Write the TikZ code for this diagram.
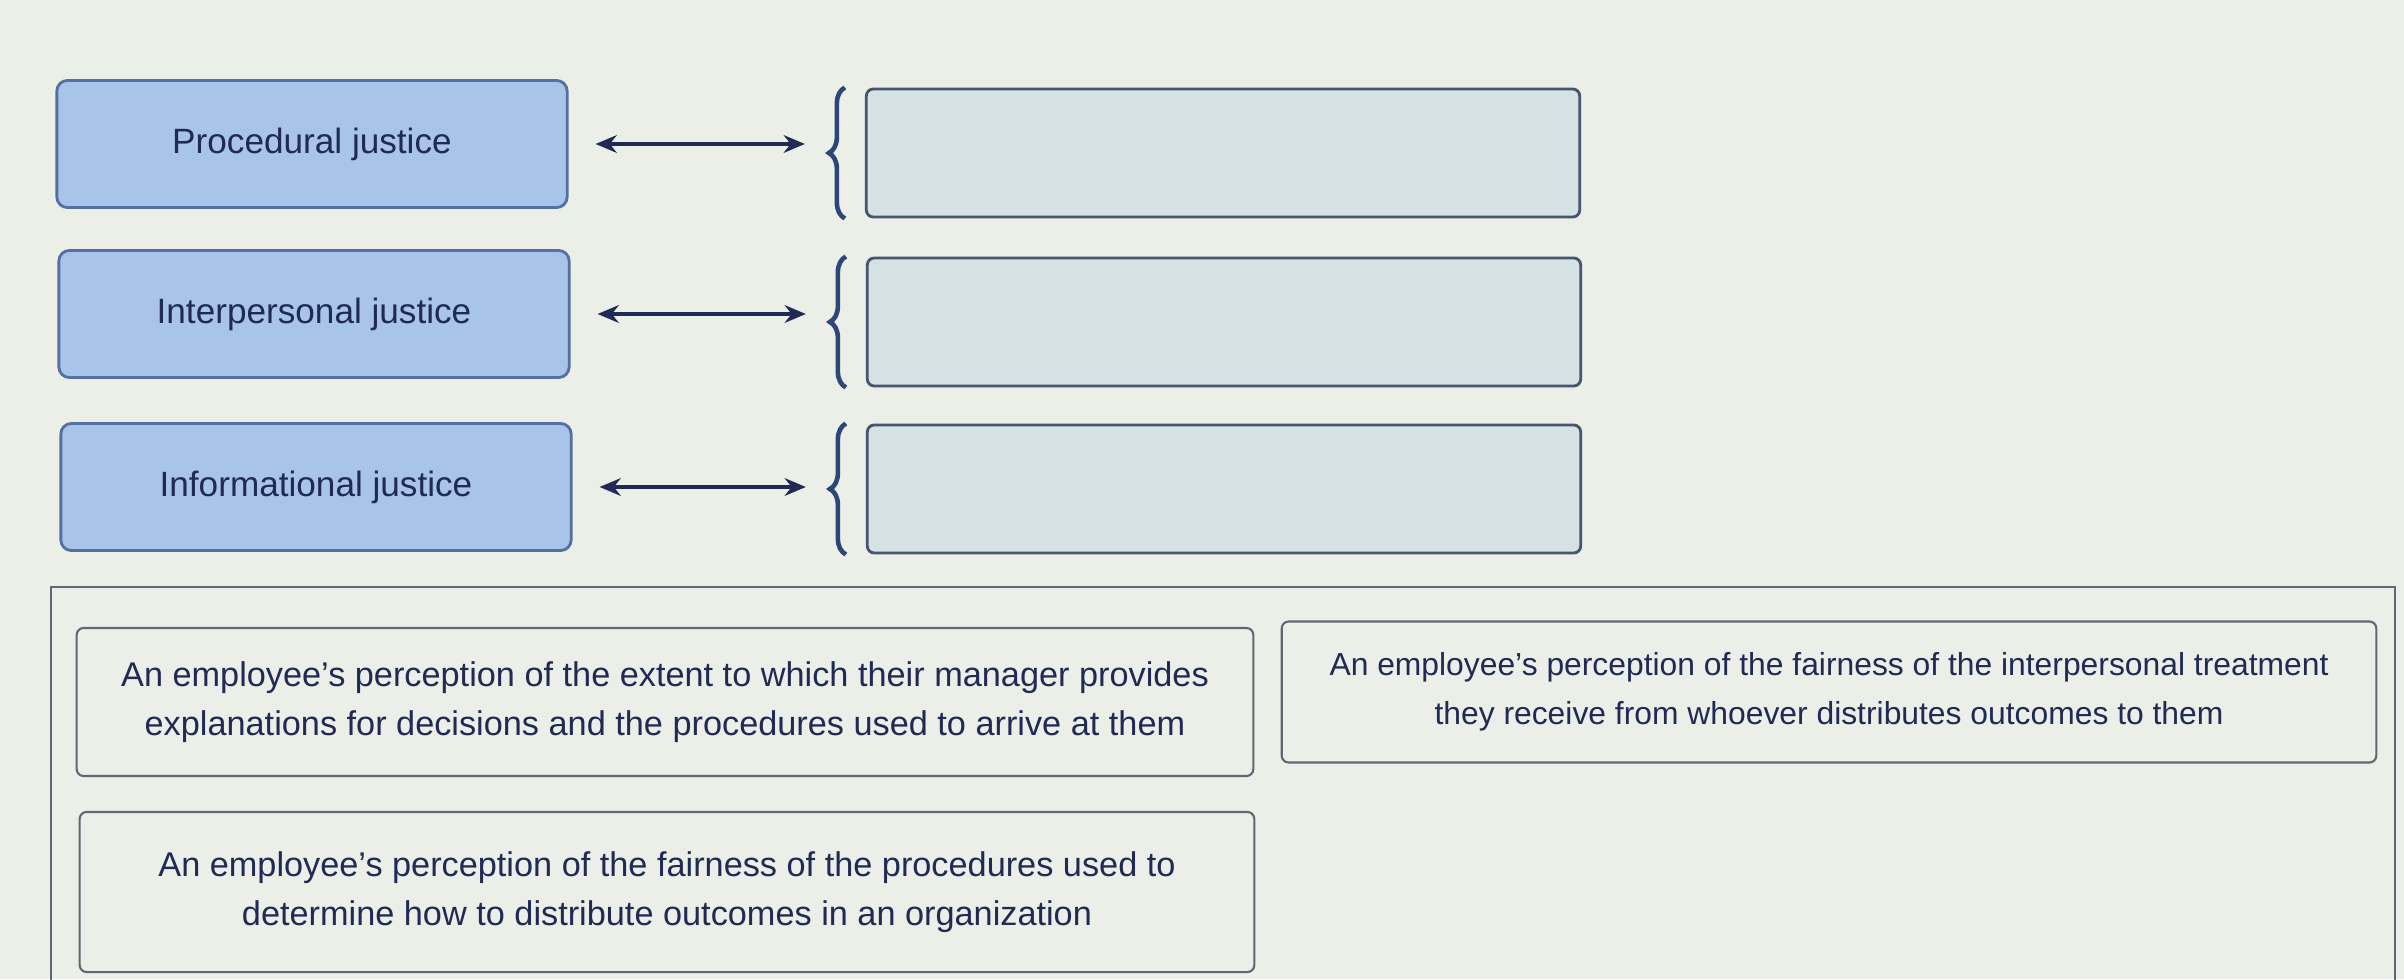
\documentclass[tikz,border=0pt]{standalone}
\usepackage{fontspec}
\setmainfont{Liberation Sans}
\usetikzlibrary{positioning}
\usetikzlibrary{arrows.meta}
\usetikzlibrary{decorations.pathreplacing}

\definecolor{bgpaper}{RGB}{236,238,232}
\definecolor{termfill}{RGB}{168,196,232}
\definecolor{termline}{RGB}{84,112,160}
\definecolor{inkblue}{RGB}{32,42,84}
\definecolor{slotfill}{RGB}{212,226,228}
\definecolor{slotline}{RGB}{70,86,110}
\definecolor{boxline}{RGB}{96,104,116}
\definecolor{bracecol}{RGB}{44,70,120}

\tikzset{
  term/.style={draw=termline, fill=termfill, rounded corners=3pt, minimum width=5.1cm,
    minimum height=1.27cm, text=inkblue, font=\fontsize{10}{12}\selectfont, line width=0.8pt},
  slot/.style={draw=slotline, fill=slotfill, rounded corners=2pt, minimum width=7.13cm,
    minimum height=1.28cm, line width=0.8pt},
  answer/.style={draw=boxline, rounded corners=2pt, align=center, text=inkblue,
    font=\fontsize{9.75}{14}\selectfont, line width=0.6pt},
}

\begin{document}
\begin{tikzpicture}[x=0.01cm, y=-0.01cm]
    \fill[bgpaper] (0,0) rectangle (2404,979);
    \useasboundingbox (0,0) rectangle (2404,979);

    % terms to be matched
    \node[term] (proc) at (312,144) {Procedural justice};
    \node[term] (inter) at (314,314) {Interpersonal justice};
    \node[term] (info) at (316,487) {Informational justice};

    % empty drop slots
    \node[slot] (slot1) at (1223,153) {};
    \node[slot] (slot2) at (1224,322) {};
    \node[slot] (slot3) at (1224,489) {};

    \foreach \t/\s in {proc/slot1, inter/slot2, info/slot3}{
        \draw[{Stealth[length=6pt,width=5pt]}-{Stealth[length=6pt,width=5pt]}, line width=1.4pt, inkblue,
            shorten <=0.27cm, shorten >=0.6cm] (\t.east) -- (\t.east -| \s.west);
        \draw[bracecol, line width=1.3pt, decorate, decoration={brace, amplitude=0.16cm}]
            ([xshift=-0.2cm]\s.south west) -- ([xshift=-0.2cm]\s.north west);
    }

    % answer bank
    \draw[boxline, line width=0.8pt] (51,995) -- (51,587) -- (2395,587) -- (2395,995);
    \node[answer, minimum width=11.76cm, minimum height=1.48cm] (optA) at (665,702)
        {An employee’s perception of the extent to which their manager provides\\
         explanations for decisions and the procedures used to arrive at them};
    \node[answer, minimum width=10.94cm, minimum height=1.41cm, font=\fontsize{9.05}{14}\selectfont] (optB) at (1829,692)
        {An employee’s perception of the fairness of the interpersonal treatment\\
         they receive from whoever distributes outcomes to them};
    \node[answer, minimum width=11.74cm, minimum height=1.60cm] (optC) at (667,892)
        {An employee’s perception of the fairness of the procedures used to\\
         determine how to distribute outcomes in an organization};
\end{tikzpicture}
\end{document}
